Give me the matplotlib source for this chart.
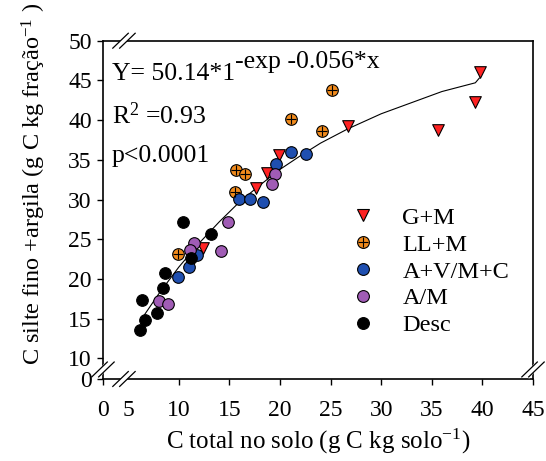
import matplotlib
matplotlib.use('Agg')
import matplotlib.pyplot as plt
from matplotlib.lines import Line2D

plt.rcParams['font.family'] = ['Liberation Serif', 'DejaVu Serif']
plt.rcParams['mathtext.default'] = 'regular'

# data (x = C total no solo, y = C silte fino + argila)
gm_x = [39.75, 39.3, 35.6, 26.7, 19.9, 18.7, 17.6, 12.4]
gm_y = [46.1, 42.3, 38.7, 39.3, 35.6, 33.4, 31.5, 23.9]

llm_x = [25.1, 21.1, 24.1, 15.6, 16.5, 15.5, 9.9]
llm_y = [43.8, 40.1, 38.6, 33.7, 33.2, 30.9, 23.2]

avmc_x = [21.1, 22.6, 19.6, 15.9, 17.0, 18.3, 11.8, 11.0, 9.9]
avmc_y = [36.0, 35.7, 34.5, 30.1, 30.1, 29.7, 23.0, 21.5, 20.3]

am_x = [19.5, 19.2, 14.9, 14.2, 11.5, 11.1, 8.0, 8.9]
am_y = [33.2, 31.9, 27.2, 23.5, 24.5, 23.6, 17.2, 16.9]

desc_x = [10.4, 13.2, 11.2, 8.6, 8.4, 6.4, 7.8, 6.7, 6.2]
desc_y = [27.2, 25.7, 22.6, 20.7, 18.8, 17.3, 15.7, 14.8, 13.6]

# fitted curve as drawn in the reference
fit_x = [6.5, 8, 10, 12, 14, 16, 18, 20, 22, 24, 26.7, 30, 33, 36, 39.3, 39.7]
fit_y = [15.3, 18.1, 21.5, 24.5, 27.2, 29.7, 31.8, 33.8, 35.5, 37.1, 38.9, 40.8, 42.2, 43.6, 44.7, 45.3]

x_ticks = [10, 15, 20, 25, 30, 35, 40, 45]
y_ticks = [10, 15, 20, 25, 30, 35, 40, 45, 50]
x_zero = 2.5   # where the broken axis puts its "0"
y_zero = 7.4

RED = '#ff2222'
ORANGE = '#f08a1c'
BLUE = '#1f4fb0'
PURPLE = '#a05cb5'

fig = plt.figure(figsize=(5.46, 4.61), dpi=100)
ax = fig.add_axes([0.1886, 0.1779, 0.7876, 0.7338])

ax.plot(fit_x, fit_y, color='black', lw=0.8, zorder=2)

ms = 70
ax.scatter(gm_x, gm_y, marker='v', s=ms, c=RED, edgecolors='black', linewidths=0.8, zorder=3)
ax.scatter(llm_x, llm_y, marker='o', s=ms, c=ORANGE, edgecolors='black', linewidths=0.8, zorder=3)
ax.scatter(llm_x, llm_y, marker='+', s=ms * 0.8, c='black', linewidths=0.8, zorder=4)
ax.scatter(avmc_x, avmc_y, marker='o', s=ms, c=BLUE, edgecolors='black', linewidths=0.8, zorder=3)
ax.scatter(am_x, am_y, marker='o', s=ms, c=PURPLE, edgecolors='black', linewidths=0.8, zorder=3)
ax.scatter(desc_x, desc_y, marker='o', s=ms, c='black', edgecolors='black', linewidths=0.8, zorder=3)

ax.set_xlim(x_zero, 45)
ax.set_ylim(y_zero, 50)

ax.set_xticks([x_zero] + x_ticks)
ax.set_xticklabels(['0'] + [str(t) for t in x_ticks])
ax.set_xticks([5], minor=True)
ax.set_xticklabels(['5'], minor=True)
ax.set_yticks([y_zero] + y_ticks)
ax.set_yticklabels(['0'] + [str(t) for t in y_ticks])

ax.tick_params(axis='both', which='major', direction='out', length=4, width=1, labelsize=17,
               top=False, right=False)
ax.tick_params(axis='x', which='major', pad=11)
ax.tick_params(axis='x', which='minor', length=0, labelsize=17, pad=15)
ax.tick_params(axis='y', pad=4)
for sp in ax.spines.values():
    sp.set_linewidth(1.2)

ax.set_xlabel('C total no solo (g C kg solo$^{-1}$)', fontsize=18, labelpad=4)
ax.set_ylabel('C silte fino +argila (g C kg fração$^{-1}$ )', fontsize=17.5)
ax.yaxis.set_label_coords(-0.127, 0.575)

eq = ax.text(0.02, 0.885, 'Y= 50.14*1', transform=ax.transAxes, fontsize=18.5)
ax.annotate('-exp -0.056*x', xy=(1, 0.55), xycoords=eq, fontsize=18.5, va='bottom')
ax.text(0.02, 0.755, 'R$^{2}$ =0.93', transform=ax.transAxes, fontsize=18.5)
ax.text(0.02, 0.64, 'p<0.0001', transform=ax.transAxes, fontsize=18.5)

# legend, LL+M handle is an orange circle with a black cross
handles = [
    Line2D([], [], ls='none', marker='v', ms=9, mfc=RED, mec='black', mew=0.8),
    (Line2D([], [], ls='none', marker='o', ms=8.5, mfc=ORANGE, mec='black', mew=0.8),
     Line2D([], [], ls='none', marker='+', ms=7.5, mec='black', mew=0.8)),
    Line2D([], [], ls='none', marker='o', ms=8.5, mfc=BLUE, mec='black', mew=0.8),
    Line2D([], [], ls='none', marker='o', ms=8.5, mfc=PURPLE, mec='black', mew=0.8),
    Line2D([], [], ls='none', marker='o', ms=8.5, mfc='black', mec='black', mew=0.8),
]
labels = ['G+M', 'LL+M', 'A+V/M+C', 'A/M', 'Desc']
ax.legend(handles, labels, loc='upper left', bbox_to_anchor=(0.52, 0.545), frameon=False,
          fontsize=17.5, labelspacing=0.2, handletextpad=0.62, handlelength=2.0, borderpad=0)


def break_mark(xa, ya):
    # small "//" on a spine, axes coordinates
    dx, dy = 0.018, 0.022
    gap = 0.008
    ax.plot([xa - dx + gap / 2, xa + dx - gap / 2], [ya - dy, ya + dy], transform=ax.transAxes,
            color='white', lw=4, clip_on=False, zorder=5, solid_capstyle='butt')
    for off in (-gap, gap):
        ax.plot([xa - dx + off, xa + dx + off], [ya - dy, ya + dy], transform=ax.transAxes,
                color='black', lw=0.9, clip_on=False, zorder=6)


bx = (5 - x_zero) / (45 - x_zero) - 0.01
by = (8.6 - y_zero) / (50 - y_zero)
break_mark(bx, 0)
break_mark(bx, 1)
break_mark(0, by)
break_mark(1, by)

fig.savefig('out.png', dpi=100)
